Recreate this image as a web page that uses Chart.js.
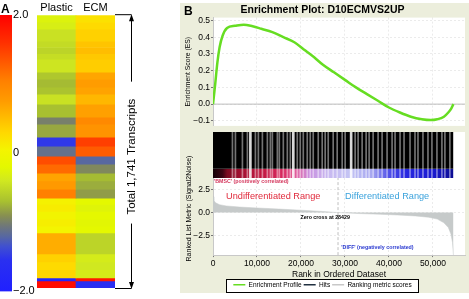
<!DOCTYPE html>
<html>
<head>
<meta charset="utf-8">
<script src="https://cdn.jsdelivr.net/npm/chart.js@4.4.0/dist/chart.umd.min.js"></script>
<style>
  body { margin: 0; background: #fff; }
  #page { position: relative; width: 469px; height: 299px; overflow: hidden; font-family: "Liberation Sans", Arial, sans-serif; }
  #page canvas { position: absolute; }
  #panelB { position: absolute; left: 180px; top: 3px; width: 289px; height: 290px; background: #eceedc; }
  .tag { position: absolute; font-weight: bold; font-size: 12px; line-height: 12px; }
</style>
</head>
<body>
<div id="page">
  <canvas id="scaleBar" width="36" height="299" style="left:0;top:0"></canvas>
  <canvas id="heatmap" width="150" height="299" style="left:30px;top:0"></canvas>
  <div id="panelB"></div>
  <canvas id="esChart" width="289" height="129" style="left:180px;top:3px"></canvas>
  <canvas id="hitsChart" width="289" height="46" style="left:180px;top:132px"></canvas>
  <canvas id="rankChart" width="289" height="158" style="left:180px;top:140px"></canvas>
  <div class="tag" style="left:1px;top:3px">A</div>
  <div class="tag" style="left:184px;top:5px">B</div>
</div>
<script>
// ---- panel A: heat map ----
const conditions = ['Plastic', 'ECM'];
const totalTranscripts = 1741;
const rowSizes = [45, 44, 77, 40, 40, 35, 83, 45, 50, 45, 64, 83, 45, 83, 57, 64,
                  51, 57, 50, 52, 57, 40, 45, 50, 45, 43, 134, 50, 50, 53, 19, 45];
const plasticValues = [-0.28, -0.33, -0.45, -0.50, -0.55, -0.48, -0.42, -0.65, -0.72, -0.68, -0.45, -0.70, -1.00, -0.80, -1.50, -1.12,
                       1.40, 1.20, 0.70, 0.78, 1.05, 0.08, 0.12, 0.02, 0.10, 0.05, 0.62, 0.35, 0.28, 0.32, -1.80, 1.90];
const ecmValues = [0.22, 0.28, 0.35, 0.45, 0.50, 0.42, 0.38, 0.68, 0.75, 0.70, 0.55, 0.72, 0.95, 0.85, 1.50, 1.30,
                   -1.20, -0.95, -0.72, -0.78, -0.85, -0.20, -0.25, -0.18, -0.22, -0.20, -0.55, -0.36, -0.40, -0.35, 1.80, -1.60];
const scaleTicks = [-2, 0, 2];
const scaleTickLabels = ['\u22122.0', '0', '2.0'];

// ---- panel B: GSEA ----
const listSize = 54675;
const zeroCross = 28429;
const rankTicks = [0, 10000, 20000, 30000, 40000, 50000];
const esRanks = [0, 500, 1000, 1500, 2200, 3200, 5000, 7000, 9000, 11000, 13500, 16000, 18500, 21000, 23000,
                 25000, 27500, 30000, 32500, 35000, 37500, 40000, 42500, 45000, 47500, 49500, 51000, 52500, 53500, 54200, 54675];
const esScores = [0, 0.12, 0.25, 0.34, 0.41, 0.455, 0.468, 0.475, 0.465, 0.45, 0.43, 0.40, 0.37, 0.32, 0.28,
                  0.235, 0.19, 0.145, 0.10, 0.06, 0.02, -0.02, -0.05, -0.075, -0.09, -0.095, -0.09, -0.075, -0.05, -0.025, 0];
const esTicks = [-0.1, 0, 0.1, 0.2, 0.3, 0.4, 0.5];
const esTickLabels = ['\u22120.1', '0.0', '0.1', '0.2', '0.3', '0.4', '0.5'];
// gaps between hits in the barcode band (rank positions)
const wideGaps = [8500, 18260, 31410];
const narrowGaps = [4420, 5100, 6690, 7820, 9640, 10320, 11230, 12360, 13040, 13500, 14630, 15080, 15990, 16900,
                    17580, 19160, 19840, 20530, 21430, 22110, 22790, 23930, 24830, 25510, 26200, 27330, 28240, 29370,
                    30050, 32320, 33000, 33910, 34820, 35500, 36410, 37540, 38450, 39580, 40720, 41400, 42530, 43440,
                    44800, 45930, 46610, 47740, 48880, 49780, 50920, 52050, 52730, 53860];
const metricRanks = [0, 200, 600, 1500, 3000, 6000, 10000, 15000, 20000, 25000, 28429, 33000, 38000, 42000,
                     46000, 49000, 51000, 52500, 53500, 54100, 54450, 54675];
const metricValues = [1.7, 1.3, 1.05, 0.85, 0.72, 0.6, 0.5, 0.38, 0.26, 0.12, 0, -0.1, -0.18, -0.26,
                      -0.36, -0.5, -0.7, -1.1, -1.6, -2.3, -3.2, -4.6];
const metricTicks = [-2.5, 0, 2.5];
const metricTickLabels = ['\u22122.5', '0.0', '2.5'];

const FONT = '"Liberation Sans", Arial, sans-serif';
Chart.defaults.font.family = FONT;
Chart.defaults.color = '#000';
Chart.defaults.animation = false;
Chart.defaults.plugins.legend.display = false;
Chart.defaults.plugins.tooltip.enabled = false;

// colour map of the scale bar
const cmapStops = [-2.0, -1.55, -1.35, -1.2, -1.05, -0.9, -0.7, -0.4, -0.2, 0.05, 0.3, 0.75, 1.05, 1.6, 2.0];
const cmapColors = ['#2020ff', '#2a30f0', '#4050d0', '#5868a0', '#707878', '#889050', '#a8c030', '#d0e820',
                    '#e4f800', '#f4f400', '#ffd800', '#ff9c00', '#ff8000', '#ff3000', '#ff0000'];

function hexToRgb(h) {
  const n = parseInt(h.slice(1), 16);
  return [n >> 16, (n >> 8) & 255, n & 255];
}

function heatColor(v) {
  v = Math.max(-2, Math.min(2, v));
  for (let i = 1; i < cmapStops.length; i++) {
    if (v <= cmapStops[i]) {
      const t = (v - cmapStops[i - 1]) / (cmapStops[i] - cmapStops[i - 1]);
      const a = hexToRgb(cmapColors[i - 1]), b = hexToRgb(cmapColors[i]);
      return 'rgb(' + a.map((c, k) => Math.round(c + (b[k] - c) * t)).join(',') + ')';
    }
  }
  return cmapColors[cmapColors.length - 1];
}

const plotBackground = {
  id: 'plotBackground',
  beforeDraw(chart) {
    const { ctx, chartArea: a } = chart;
    ctx.save();
    ctx.fillStyle = '#fff';
    ctx.fillRect(a.left, a.top, a.width, a.height);
    ctx.restore();
  }
};

// scale bar
new Chart(document.getElementById('scaleBar'), {
  type: 'bar',
  data: {
    labels: [''],
    datasets: [{
      data: [[-2, 2]],
      backgroundColor: (context) => {
        const chart = context.chart;
        if (!chart.chartArea) return null;
        const y = chart.scales.y;
        const g = chart.ctx.createLinearGradient(0, y.getPixelForValue(-2), 0, y.getPixelForValue(2));
        cmapStops.forEach((s, i) => g.addColorStop((s + 2) / 4, cmapColors[i]));
        return g;
      },
      borderWidth: 0,
      barPercentage: 1,
      categoryPercentage: 1
    }]
  },
  options: {
    responsive: false,
    layout: { padding: { top: 15, bottom: 7 } },
    scales: {
      x: { display: false },
      y: {
        position: 'right',
        min: -2,
        max: 2,
        grid: { display: false, drawTicks: false },
        border: { display: false },
        afterBuildTicks: (s) => { s.ticks = scaleTicks.map(v => ({ value: v })); },
        afterFit: (s) => { s.width = 24; },
        ticks: {
          padding: 1,
          font: { size: 11 },
          callback: (v) => scaleTickLabels[scaleTicks.indexOf(v)]
        }
      }
    }
  }
});

// bracket with arrows and the transcript count
const transcriptBracket = {
  id: 'transcriptBracket',
  afterDraw(chart) {
    const { ctx, chartArea: a } = chart;
    const label = 'Total 1,741 Transcripts';
    const x = Math.round(a.right + 16) + 0.5;
    const mid = (a.top + a.bottom) / 2 + 5;
    ctx.save();
    ctx.font = '11.5px ' + FONT;
    const half = ctx.measureText(label).width / 2;
    ctx.strokeStyle = '#000';
    ctx.fillStyle = '#000';
    ctx.lineWidth = 1;
    ctx.beginPath();
    ctx.moveTo(a.right, a.top - 0.5); ctx.lineTo(x, a.top - 0.5);
    ctx.moveTo(x, a.top + 4); ctx.lineTo(x, mid - half - 17);
    ctx.moveTo(a.right, a.bottom + 0.5); ctx.lineTo(x, a.bottom + 0.5);
    ctx.moveTo(x, a.bottom - 4); ctx.lineTo(x, mid + half + 9);
    ctx.stroke();
    ctx.beginPath();
    ctx.moveTo(x, a.top - 1); ctx.lineTo(x - 2.5, a.top + 6); ctx.lineTo(x + 2.5, a.top + 6); ctx.closePath();
    ctx.moveTo(x, a.bottom + 1); ctx.lineTo(x - 2.5, a.bottom - 6); ctx.lineTo(x + 2.5, a.bottom - 6); ctx.closePath();
    ctx.fill();
    ctx.translate(x, mid);
    ctx.rotate(-Math.PI / 2);
    ctx.textAlign = 'center';
    ctx.textBaseline = 'middle';
    ctx.fillText(label, 0, 0);
    ctx.restore();
  }
};

// heat map
new Chart(document.getElementById('heatmap'), {
  type: 'bar',
  data: {
    labels: conditions,
    datasets: rowSizes.map((n, i) => ({
      data: [n, n],
      backgroundColor: [heatColor(plasticValues[i]), heatColor(ecmValues[i])],
      borderWidth: 0,
      barPercentage: 1,
      categoryPercentage: 1
    }))
  },
  options: {
    responsive: false,
    layout: { padding: { left: 7, right: 65, top: 0, bottom: 11 } },
    scales: {
      x: {
        position: 'top',
        stacked: true,
        grid: { display: false, drawTicks: false },
        border: { display: false },
        ticks: { padding: 1, font: { size: 11 } }
      },
      y: { stacked: true, reverse: true, min: 0, max: totalTranscripts, display: false }
    }
  },
  plugins: [transcriptBracket]
});

// shared x axis settings for the three GSEA strips
const rankAxisMax = 57300;
const gridStyle = { color: 'rgba(0,0,0,0.08)', tickColor: '#777', tickLength: 2 };

function rankAxis(showLabels) {
  return {
    type: 'linear',
    min: 0,
    max: rankAxisMax,
    afterBuildTicks: (s) => { s.ticks = rankTicks.map(v => ({ value: v })); },
    grid: Object.assign({}, gridStyle, { drawTicks: showLabels }),
    border: { display: showLabels, color: '#c8c8c8', dash: [2, 2] },
    ticks: {
      display: showLabels,
      padding: 1,
      font: { size: 8.5 },
      callback: (v) => v.toLocaleString('en-US')
    },
    title: { display: showLabels, text: 'Rank in Ordered Dataset', font: { size: 8.5 }, padding: { top: 0, bottom: 0 } },
    afterFit: showLabels ? undefined : (s) => { s.height = 0; }
  };
}

// enrichment score
new Chart(document.getElementById('esChart'), {
  type: 'line',
  data: {
    datasets: [{
      data: esRanks.map((r, i) => ({ x: r, y: esScores[i] })),
      borderColor: '#66dd22',
      borderWidth: 2.5,
      pointRadius: 0,
      cubicInterpolationMode: 'monotone',
      order: 0
    }, {
      data: [{ x: 0, y: 0 }, { x: rankAxisMax, y: 0 }],
      borderColor: '#bdbdbd',
      borderWidth: 1,
      pointRadius: 0,
      order: 1
    }]
  },
  options: {
    responsive: false,
    layout: { padding: { right: 4 } },
    plugins: {
      title: {
        display: true,
        text: 'Enrichment Plot: D10ECMVS2UP',
        font: { size: 10.5, weight: 'bold' },
        padding: { top: 1, bottom: 1 }
      }
    },
    scales: {
      x: rankAxis(false),
      y: {
        min: -0.13,
        max: 0.517,
        afterBuildTicks: (s) => { s.ticks = esTicks.map(v => ({ value: v })); },
        afterFit: (s) => { s.width = 33; },
        grid: gridStyle,
        border: { color: '#c8c8c8', dash: [2, 2] },
        ticks: {
          padding: 1,
          font: { size: 8.5 },
          callback: (v) => esTickLabels[esTicks.findIndex(t => Math.abs(t - v) < 1e-9)]
        },
        title: { display: true, text: 'Enrichment Score (ES)', font: { size: 6.8 } }
      }
    }
  },
  plugins: [plotBackground]
});

// hits barcode with the ranked-list colour band underneath
const heatBand = [[0, '#140006'], [2200, '#3c0412'], [3200, '#7a0a20'], [6000, '#a01030'], [11000, '#c01840'],
                  [16000, '#d82a60'], [19000, '#e060a0'], [22000, '#c890e0'], [26000, '#c8b8f0'], [31000, '#c4c4f4'],
                  [36000, '#a8a8f0'], [40000, '#5050e8'], [44000, '#2828e0'], [50000, '#1a1ad0'], [54675, '#0c0c90']];

function bandGradient(context) {
  const chart = context.chart;
  if (!chart.chartArea) return null;
  const xs = chart.scales.x;
  const x0 = xs.getPixelForValue(0), x1 = xs.getPixelForValue(listSize);
  const g = chart.ctx.createLinearGradient(x0, 0, x1, 0);
  heatBand.forEach(([r, c]) => g.addColorStop(r / listSize, c));
  return g;
}

const bandSplit = 0.2;
new Chart(document.getElementById('hitsChart'), {
  type: 'bar',
  data: {
    datasets: [{
      data: wideGaps.map(r => ({ x: r, y: [0, 1] })),
      backgroundColor: 'rgba(255,255,255,0.85)',
      barThickness: 2,
      grouped: false,
      order: 0
    }, {
      data: narrowGaps.map(r => ({ x: r, y: [0, 1] })),
      backgroundColor: 'rgba(255,255,255,0.45)',
      barThickness: 1,
      grouped: false,
      order: 1
    }, {
      type: 'line',
      data: [{ x: 0, y: 1 }, { x: listSize, y: 1 }],
      fill: { value: bandSplit },
      backgroundColor: '#000',
      borderWidth: 0,
      pointRadius: 0,
      order: 3
    }, {
      type: 'line',
      data: [{ x: 0, y: bandSplit }, { x: listSize, y: bandSplit }],
      fill: { value: 0 },
      backgroundColor: bandGradient,
      borderWidth: 0,
      pointRadius: 0,
      order: 4
    }]
  },
  options: {
    responsive: false,
    layout: { padding: { left: 33, right: 4 } },
    scales: {
      x: { type: 'linear', min: 0, max: rankAxisMax, offset: false, display: false },
      y: { min: 0, max: 1, display: false }
    }
  },
  plugins: [plotBackground]
});

// labels inside the ranked list panel
const rankNotes = [
  { text: "'BMSC' (positively correlated)", x: 0, y: 3.3, align: 'left', color: '#d4365c', font: 'bold 5.3px ' },
  { text: 'Undifferentiated Range', x: 13700, y: 1.75, align: 'center', color: '#e0283a', font: '9.2px ' },
  { text: 'Differentiated Range', x: 39600, y: 1.75, align: 'center', color: '#3aa2dc', font: '9.2px ' },
  { text: 'Zero cross at ' + zeroCross, x: 25500, y: -0.55, align: 'center', color: '#000', font: 'bold 5.3px ' },
  { text: "'DIFF' (negatively correlated)", x: 37400, y: -3.8, align: 'center', color: '#2838d0', font: 'bold 5.3px ' }
];

const rankAnnotations = {
  id: 'rankAnnotations',
  afterDatasetsDraw(chart) {
    const { ctx, scales: { x, y } } = chart;
    ctx.save();
    ctx.textBaseline = 'middle';
    rankNotes.forEach(n => {
      ctx.font = n.font + FONT;
      ctx.fillStyle = n.color;
      ctx.textAlign = n.align;
      ctx.fillText(n.text, x.getPixelForValue(n.x) + (n.align === 'left' ? 1 : 0), y.getPixelForValue(n.y));
    });
    ctx.restore();
  }
};

// the metric axis title is longer than the strip, so it is drawn unclipped
const metricAxisTitle = {
  id: 'metricAxisTitle',
  afterDraw(chart) {
    const { ctx, chartArea: a } = chart;
    ctx.save();
    ctx.font = '7px ' + FONT;
    ctx.fillStyle = '#000';
    ctx.textAlign = 'center';
    ctx.textBaseline = 'middle';
    ctx.translate(9, (a.top + a.bottom) / 2 - 8);
    ctx.rotate(-Math.PI / 2);
    ctx.fillText('Ranked List Metric (Signal2Noise)', 0, 0);
    ctx.restore();
  }
};

const legendFrame = {
  id: 'legendFrame',
  beforeDraw(chart) {
    const boxes = chart.legend && chart.legend.legendHitBoxes;
    if (!boxes || !boxes.length) return;
    const left = Math.min(...boxes.map(b => b.left)) - 7;
    const right = Math.max(...boxes.map(b => b.left + b.width)) + 7;
    const top = Math.min(...boxes.map(b => b.top)) - 3;
    const bottom = Math.max(...boxes.map(b => b.top + b.height)) + 3;
    const { ctx } = chart;
    ctx.save();
    ctx.fillStyle = '#fff';
    ctx.strokeStyle = '#000';
    ctx.lineWidth = 1;
    ctx.fillRect(Math.round(left), Math.round(top), Math.round(right - left), Math.round(bottom - top));
    ctx.strokeRect(Math.round(left) + 0.5, Math.round(top) + 0.5, Math.round(right - left), Math.round(bottom - top));
    ctx.restore();
  }
};

const legendEntries = [
  { text: 'Enrichment Profile', color: '#66dd22' },
  { text: 'Hits', color: '#203040' },
  { text: 'Ranking metric scores', color: '#c8c8c8' }
];

// ranked list metric
new Chart(document.getElementById('rankChart'), {
  type: 'line',
  data: {
    datasets: [{
      data: metricRanks.map((r, i) => ({ x: r, y: metricValues[i] })),
      fill: 'origin',
      backgroundColor: '#c6caca',
      borderColor: '#c6caca',
      borderWidth: 0.5,
      pointRadius: 0,
      order: 1
    }, {
      data: [{ x: zeroCross, y: -4.57 }, { x: zeroCross, y: 3.72 }],
      borderColor: '#bfbfbf',
      borderDash: [3, 2],
      borderWidth: 1,
      pointRadius: 0,
      order: 0
    }]
  },
  options: {
    responsive: false,
    layout: { padding: { top: 38, right: 4, bottom: 0 } },
    plugins: {
      legend: {
        display: true,
        position: 'bottom',
        labels: {
          usePointStyle: true,
          pointStyleWidth: 12,
          padding: 2,
          font: { size: 6.5 },
          generateLabels: () => legendEntries.map(e => ({
            text: e.text,
            pointStyle: 'line',
            strokeStyle: e.color,
            fillStyle: e.color,
            lineWidth: 1.5,
            fontColor: '#000'
          }))
        }
      }
    },
    scales: {
      x: rankAxis(true),
      y: {
        min: -4.57,
        max: 3.72,
        afterBuildTicks: (s) => { s.ticks = metricTicks.map(v => ({ value: v })); },
        afterFit: (s) => { s.width = 33; },
        grid: gridStyle,
        border: { color: '#c8c8c8', dash: [2, 2] },
        ticks: {
          padding: 1,
          font: { size: 8.5 },
          callback: (v) => metricTickLabels[metricTicks.indexOf(v)]
        }
      }
    }
  },
  plugins: [plotBackground, legendFrame, rankAnnotations, metricAxisTitle]
});
</script>
</body>
</html>
